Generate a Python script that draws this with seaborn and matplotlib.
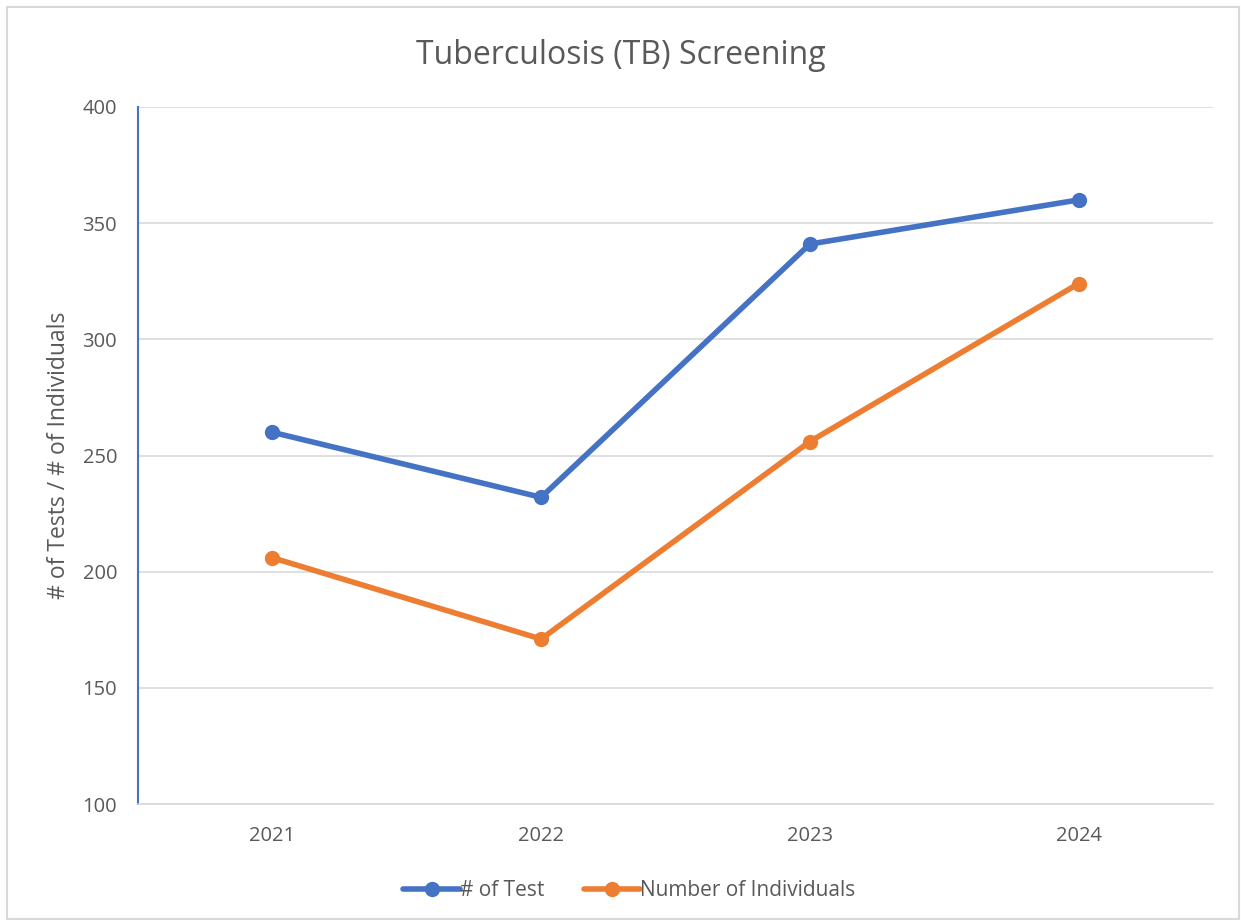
import seaborn as sns
import matplotlib.pyplot as plt
import pandas as pd
from matplotlib.patches import Rectangle

# Values
years = ["2021", "2022", "2023", "2024"]
tests = [260, 232, 341, 360]
individuals = [206, 171, 256, 324]

df = pd.DataFrame({"Year": years * 2,
                   "Value": tests + individuals,
                   "Series": ["# of Test"] * 4 + ["Number of Individuals"] * 4})

sns.set_theme(style="white")
plt.rcParams["font.family"] = ["Open Sans", "DejaVu Sans"]

fig = plt.figure(figsize=(12.41, 9.23), dpi=100)
ax = fig.add_axes([0.1112, 0.1289, 0.8662, 0.7552])

sns.lineplot(data=df, x="Year", y="Value", hue="Series",
             palette=["#4472C4", "#ED7D31"], marker="o", markersize=11,
             markeredgewidth=0, linewidth=4, ax=ax, sort=False)

ax.set_xlim(-0.5, 3.5)
ax.set_ylim(100, 400)
ax.set_yticks(range(100, 401, 50))
ax.grid(axis="y", color="#D9D9D9", linewidth=1.2)
ax.set_axisbelow(True)
for s in ["top", "right"]:
    ax.spines[s].set_visible(False)
ax.spines["bottom"].set_color("#D9D9D9")
ax.spines["bottom"].set_linewidth(1.2)
ax.spines["left"].set_color("#4472C4")
ax.spines["left"].set_linewidth(1.5)
ax.tick_params(axis="both", colors="#595959", labelsize=14.5, length=0)
ax.tick_params(axis="x", pad=16)
ax.tick_params(axis="y", pad=15)

ax.set_xlabel("")
ax.set_ylabel("# of Tests / # of Individuals", fontsize=16.5, color="#595959", labelpad=8)
fig.suptitle("Tuberculosis (TB) Screening", y=0.958, fontsize=23, color="#595959")

leg = ax.legend(loc="upper center", bbox_to_anchor=(0.457, -0.082), ncol=2,
                frameon=False, fontsize=15, handlelength=2.7, handletextpad=0.0,
                columnspacing=1.9)
for t in leg.get_texts():
    t.set_color("#595959")

fig.patches.append(Rectangle((0.006, 0.004), 0.992, 0.988, transform=fig.transFigure,
                             fill=False, edgecolor="#D9D9D9", linewidth=1.5))

fig.savefig("out.png", dpi=100)
